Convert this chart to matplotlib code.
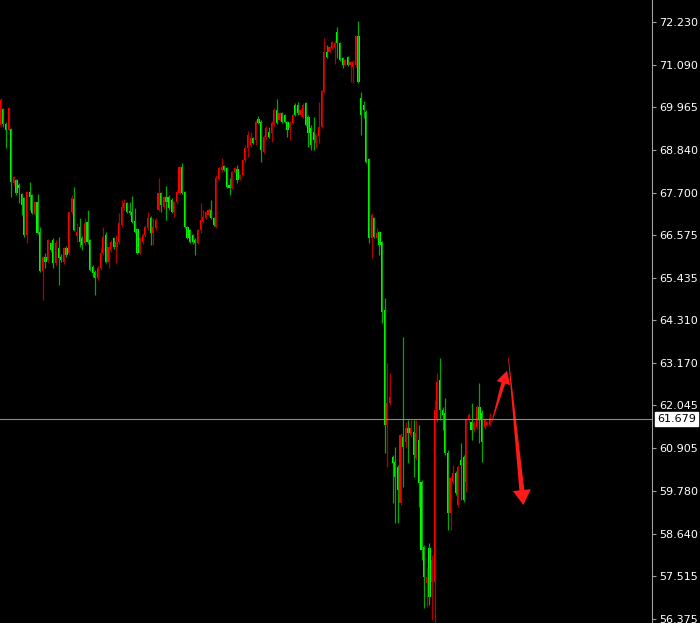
import numpy as np
import matplotlib
matplotlib.use("Agg")
import matplotlib.pyplot as plt
from matplotlib import transforms
from matplotlib.patches import Polygon

# OHLC (one value per candle, oldest first)
opens = [
    69.49, 69.92, 69.52, 69.36, 69.39, 67.95, 68.03, 67.90, 67.66, 67.55,
    66.57, 67.71, 67.64, 67.13, 67.45, 66.65, 65.62, 65.99, 65.91, 66.36,
    66.44, 65.83, 66.23, 65.99, 65.86, 66.23, 66.09, 67.18, 67.53, 66.55,
    66.79, 66.49, 66.36, 66.92, 66.44, 65.72, 65.59, 65.43, 65.70, 66.09,
    66.57, 65.86, 66.17, 66.49, 66.25, 66.39, 66.84, 67.29, 67.42, 67.21,
    67.18, 66.94, 66.73, 66.09, 66.39, 66.57, 66.76, 67.02, 66.62, 66.76,
    67.24, 67.69, 67.32, 67.58, 67.58, 67.50, 67.18, 67.45, 67.69, 68.38,
    67.71, 66.79, 66.71, 66.57, 66.44, 66.36, 66.71, 66.92, 67.02, 67.10,
    67.24, 67.02, 66.79, 68.06, 68.30, 68.41, 68.35, 67.90, 67.82, 68.25,
    68.33, 68.09, 68.17, 68.56, 68.88, 68.96, 69.15, 69.10, 69.65, 69.57,
    68.78, 69.18, 69.31, 69.28, 69.49, 69.89, 69.63, 69.81, 69.76, 69.57,
    69.41, 69.55, 70.02, 70.02, 69.76, 69.71, 70.08, 69.71, 69.41, 69.31,
    69.02, 69.20, 69.44, 70.37, 71.43, 71.43, 71.54, 71.57, 71.96, 71.67,
    71.27, 71.09, 71.30, 71.09, 71.04, 71.09, 71.86, 70.21, 70.02, 69.84,
    68.59, 66.49, 67.02, 66.49, 66.65, 66.39, 64.58, 61.53, 62.11, 60.68,
    60.54, 60.41, 59.45, 61.21, 61.07, 61.45, 61.26, 61.34, 60.65, 61.13,
    60.01, 58.29, 57.33, 58.26, 57.36, 57.36, 61.66, 62.72, 61.92, 61.85,
    60.78, 59.19, 60.01, 60.25, 59.40, 60.60, 60.68, 60.01, 61.66, 61.61,
    61.39, 61.47, 62.00, 61.85, 61.47, 61.53, 61.53,
]
highs = [
    70.21, 69.95, 69.57, 69.97, 69.41, 68.14, 68.06, 67.95, 67.69, 67.58,
    67.74, 67.98, 67.66, 67.48, 67.66, 66.79, 66.01, 66.09, 66.47, 66.39,
    66.49, 66.44, 66.52, 66.07, 66.25, 66.28, 67.21, 67.64, 67.85, 66.89,
    67.02, 66.55, 67.02, 67.24, 66.47, 65.78, 65.64, 65.75, 66.23, 66.79,
    66.65, 66.28, 66.44, 66.52, 66.57, 67.16, 67.50, 67.53, 67.45, 67.45,
    67.61, 67.29, 66.76, 66.52, 66.62, 66.84, 67.18, 67.08, 67.02, 67.02,
    68.09, 67.71, 67.61, 67.87, 67.64, 67.55, 67.48, 67.77, 68.41, 68.48,
    67.74, 66.81, 66.73, 66.60, 66.49, 66.73, 67.42, 67.24, 67.21, 67.29,
    67.50, 67.05, 68.17, 68.38, 68.62, 68.43, 68.38, 68.09, 68.27, 68.38,
    68.43, 68.19, 68.59, 68.96, 69.33, 69.31, 69.18, 69.63, 69.73, 69.63,
    69.23, 69.47, 69.44, 69.60, 69.95, 70.18, 69.84, 69.84, 69.79, 69.60,
    69.60, 69.81, 70.08, 70.10, 69.95, 70.08, 70.10, 69.76, 69.49, 69.71,
    69.28, 70.10, 70.42, 71.80, 71.62, 71.59, 71.73, 71.75, 72.10, 71.70,
    71.30, 71.25, 71.33, 71.19, 71.22, 71.88, 72.26, 70.37, 70.13, 69.89,
    68.62, 67.16, 67.05, 66.76, 66.68, 66.41, 64.90, 63.17, 62.91, 60.73,
    60.94, 60.46, 61.31, 63.86, 61.61, 61.66, 61.66, 61.66, 61.66, 61.53,
    60.07, 58.34, 57.75, 58.39, 58.07, 62.19, 62.91, 63.31, 62.00, 62.24,
    60.86, 60.17, 60.46, 60.30, 60.46, 61.05, 60.73, 61.71, 61.85, 62.11,
    61.63, 62.06, 62.64, 61.92, 61.71, 61.63, 61.85,
]
lows = [
    69.44, 69.44, 68.88, 69.33, 67.58, 67.90, 67.64, 67.42, 67.10, 66.52,
    66.36, 67.24, 67.13, 67.08, 66.60, 65.59, 64.85, 65.70, 65.86, 66.12,
    65.70, 65.78, 65.24, 65.86, 65.80, 65.99, 66.04, 67.13, 66.68, 66.39,
    66.25, 66.17, 66.31, 66.33, 65.62, 65.46, 64.98, 65.38, 65.64, 66.04,
    65.83, 65.70, 66.12, 66.20, 65.83, 66.33, 66.79, 67.24, 67.16, 67.10,
    66.89, 66.62, 66.07, 66.07, 66.33, 66.52, 66.71, 66.31, 66.31, 66.71,
    67.21, 67.18, 67.26, 66.97, 67.24, 67.16, 67.05, 67.40, 67.66, 67.66,
    66.76, 66.47, 66.36, 66.33, 66.04, 66.33, 66.62, 66.89, 67.00, 67.08,
    67.00, 66.81, 66.76, 68.03, 68.25, 68.27, 67.82, 67.64, 67.79, 68.22,
    67.95, 68.03, 68.14, 68.51, 68.64, 68.91, 68.99, 68.96, 69.52, 68.51,
    68.75, 69.12, 69.15, 69.04, 69.47, 69.52, 69.60, 69.55, 69.55, 69.18,
    69.10, 69.52, 69.73, 69.76, 69.71, 69.68, 69.47, 68.91, 68.83, 68.83,
    68.88, 69.02, 69.41, 70.34, 71.27, 71.41, 71.51, 71.11, 71.27, 71.19,
    71.01, 71.06, 71.06, 70.64, 70.61, 71.04, 70.61, 69.23, 69.68, 68.48,
    66.36, 65.96, 66.49, 66.44, 66.04, 64.24, 60.78, 60.41, 62.06, 59.45,
    58.92, 58.92, 59.40, 59.88, 60.92, 60.52, 61.21, 60.14, 60.60, 59.35,
    57.94, 56.66, 56.69, 56.75, 56.35, 56.27, 61.61, 61.66, 61.39, 60.73,
    58.74, 58.74, 59.96, 59.67, 59.35, 59.53, 59.48, 59.75, 61.61, 61.13,
    61.34, 61.42, 61.05, 60.54, 61.42, 61.50, 61.50,
]
closes = [
    70.16, 69.52, 69.36, 69.95, 67.98, 68.11, 67.69, 67.82, 67.37, 66.57,
    67.71, 67.58, 67.16, 67.45, 66.62, 65.62, 65.99, 65.86, 66.44, 66.17,
    65.83, 66.36, 65.96, 65.91, 66.23, 66.04, 67.18, 67.55, 66.71, 66.65,
    66.39, 66.31, 66.89, 66.39, 65.64, 65.56, 65.43, 65.70, 66.09, 66.52,
    65.86, 66.25, 66.39, 66.25, 66.39, 66.89, 67.32, 67.42, 67.18, 67.16,
    66.92, 66.65, 66.09, 66.49, 66.57, 66.79, 67.02, 66.62, 66.79, 66.97,
    67.69, 67.37, 67.58, 67.45, 67.29, 67.18, 67.45, 67.71, 68.38, 67.69,
    66.79, 66.49, 66.39, 66.39, 66.36, 66.71, 66.97, 67.05, 67.18, 67.24,
    67.02, 66.84, 68.09, 68.35, 68.38, 68.30, 67.85, 67.82, 68.25, 68.35,
    68.03, 68.17, 68.56, 68.88, 69.23, 69.15, 69.02, 69.57, 69.55, 68.83,
    69.18, 69.41, 69.18, 69.55, 69.89, 69.55, 69.81, 69.57, 69.57, 69.36,
    69.55, 69.76, 69.76, 69.81, 69.89, 70.02, 69.49, 69.28, 68.96, 69.10,
    69.23, 69.44, 70.40, 71.43, 71.30, 71.57, 71.70, 71.67, 71.67, 71.22,
    71.09, 71.22, 71.09, 71.17, 71.17, 71.86, 70.64, 69.76, 69.89, 68.51,
    66.49, 67.10, 66.52, 66.62, 66.31, 64.53, 61.53, 62.11, 62.27, 60.52,
    60.14, 59.80, 61.26, 60.94, 61.45, 61.31, 61.45, 60.73, 61.31, 59.99,
    58.21, 57.49, 57.49, 56.96, 57.94, 61.92, 62.67, 61.92, 61.79, 60.78,
    59.19, 60.12, 60.25, 59.72, 60.41, 60.46, 59.53, 61.66, 61.79, 61.39,
    61.58, 62.00, 61.66, 61.07, 61.66, 61.61, 61.71,
]

last_price = 61.679
price_ticks = [72.230, 71.090, 69.965, 68.840, 67.700, 66.575, 65.435, 64.310,
               63.170, 62.045, 60.905, 59.780, 58.640, 57.515, 56.375]

# hand-drawn forecast arrows: (bar index, price)
up_arrow = [(186.7, 61.61), (192.5, 62.97)]
down_arrow = [(193.0, 63.31), (198.7, 59.40)]

o = np.array(opens)
h = np.array(highs)
l = np.array(lows)
c = np.array(closes)
x = np.arange(len(c))
up = c >= o

fig = plt.figure(figsize=(7, 6.23), dpi=100, facecolor='black')
ax = fig.add_axes([0, 0, 652 / 700, 1])
ax.set_facecolor('black')
ax.set_xlim(-0.27, 247.6)
ax.set_ylim(56.267, 72.814)

# wicks
ax.vlines(x[up], l[up], h[up], color='#b00000', linewidth=0.9)
ax.vlines(x[~up], l[~up], h[~up], color='#00a800', linewidth=0.9)
# bodies (red = up, green = down)
ax.bar(x[up], c[up] - o[up], bottom=o[up], width=0.82, color='#ff0000', linewidth=0)
ax.bar(x[~up], o[~up] - c[~up], bottom=c[~up], width=0.82, color='#00ff00', linewidth=0)

# current price line + label
ax.axhline(last_price, color='#8a8a8a', linewidth=0.8)
trans = transforms.blended_transform_factory(ax.transAxes, ax.transData)
ax.text(1.0075, last_price, f'{last_price:.3f}', transform=trans, ha='left', va='center',
        fontsize=8, color='black', clip_on=False,
        bbox=dict(boxstyle='square,pad=0.2', facecolor='white', edgecolor='white'))


# tapered arrow (thin at start, wide at head), built in pixel space
def draw_arrow(ax, start, tip, w0, w1, head_w, head_len, color='#ff1a1a'):
    p0 = ax.transData.transform(start)
    p1 = ax.transData.transform(tip)
    d = p1 - p0
    u = d / np.hypot(*d)
    n = np.array([-u[1], u[0]])
    base = p1 - u * head_len
    pts = [p0 + n * w0 / 2, base + n * w1 / 2, base + n * head_w / 2, p1,
           base - n * head_w / 2, base - n * w1 / 2, p0 - n * w0 / 2]
    ax.add_patch(Polygon(pts, closed=True, transform=None, facecolor=color,
                         edgecolor='none', clip_on=False))


draw_arrow(ax, up_arrow[0], up_arrow[1], 0.6, 4, 14, 13)
draw_arrow(ax, down_arrow[0], down_arrow[1], 0.6, 5, 18, 15)

for side in ['left', 'top', 'bottom']:
    ax.spines[side].set_visible(False)
ax.spines['right'].set_color('#a0a0a0')
ax.spines['right'].set_linewidth(0.8)

ax.set_xticks([])
ax.yaxis.tick_right()
ax.set_yticks(price_ticks)
ax.set_yticklabels([f'{t:.3f}' for t in price_ticks])
ax.tick_params(axis='y', colors='#a0a0a0', labelcolor='white', length=3, width=0.8,
               labelsize=8, pad=2)

fig.savefig('out.png', dpi=100, facecolor='black')
